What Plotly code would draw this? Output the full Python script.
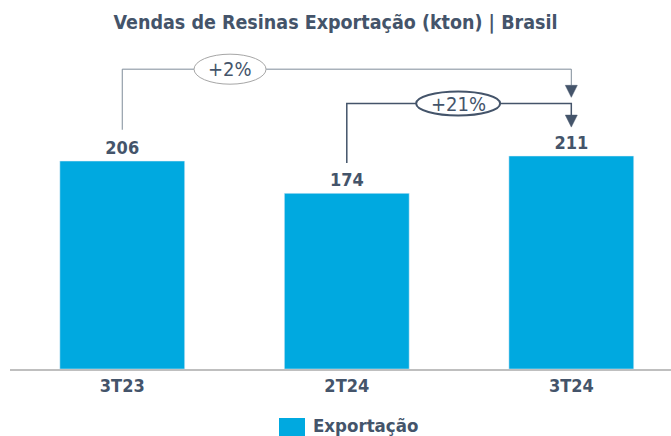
import plotly.graph_objects as go

categories = ["3T23", "2T24", "3T24"]
values = [206, 174, 211]
series_name = "Exportação"
growth_labels = ["+2%", "+21%"]

TXT = "#44546A"
BAR = "#00A9E0"
FONT = "DejaVu Sans Condensed, DejaVu Sans, sans-serif"

L, T, B = 10, 50, 67
PW, PH = 671 - L, 436 - T - B
YMAX = 316
UX = 2.944 / PW      # x data units per pixel
UY = YMAX / PH       # y data units per pixel

x = list(range(len(categories)))
fig = go.Figure()
fig.add_trace(go.Bar(
    x=x, y=values, name=series_name, marker_color=BAR, width=0.556,
    text=[str(v) for v in values], textposition="outside", cliponaxis=False,
    textfont=dict(family=FONT, size=18, color=TXT, weight="bold"),
    showlegend=False,
))

shapes = []
annotations = []


def arrow_head(xc, ytop, color):
    hw = 6 * UX
    h = 12 * UY
    return dict(type="path", xref="x", yref="y",
                path=f"M {xc-hw} {ytop} L {xc+hw} {ytop} L {xc} {ytop-h} Z",
                fillcolor=color, line=dict(color=color, width=0.5))


# bracket 1: 3T23 -> 3T24
y1 = 297
head1 = 281
shapes.append(dict(type="path", xref="x", yref="y",
                   path=f"M 0 {values[0]+31} L 0 {y1} L 2 {y1} L 2 {head1}",
                   line=dict(color="#7F8C99", width=1)))
shapes.append(arrow_head(2, head1, TXT))
shapes.append(dict(type="circle", xref="x", yref="y", x0=0.48-36*UX, x1=0.48+36*UX,
                   y0=y1-15*UY, y1=y1+15*UY, fillcolor="white", line=dict(color="#A6A6A6", width=1)))
annotations.append(dict(x=0.48, y=y1, xref="x", yref="y", text=growth_labels[0], showarrow=False,
                        font=dict(family=FONT, size=20, color=TXT)))
# bracket 2: 2T24 -> 3T24
y2 = 263
head2 = 251.5
shapes.append(dict(type="path", xref="x", yref="y",
                   path=f"M 1 {values[1]+30} L 1 {y2} L 2 {y2} L 2 {head2}",
                   line=dict(color=TXT, width=1.5)))
shapes.append(arrow_head(2, head2, TXT))
shapes.append(dict(type="circle", xref="x", yref="y", x0=1.496-42*UX, x1=1.496+42*UX,
                   y0=y2-12*UY, y1=y2+12*UY, fillcolor="white", line=dict(color=TXT, width=2)))
annotations.append(dict(x=1.496, y=y2, xref="x", yref="y", text=growth_labels[1], showarrow=False,
                        font=dict(family=FONT, size=20, color=TXT)))

# manual legend (larger swatch like the reference)
shapes.append(dict(type="rect", xref="paper", yref="paper", x0=(279-L)/PW, x1=(305-L)/PW,
                   y0=(369-436)/PH, y1=(369-418)/PH, fillcolor=BAR, line=dict(width=0)))
annotations.append(dict(x=(311-L)/PW, y=(369-425)/PH, xref="paper", yref="paper",
                        xanchor="left", yanchor="middle", showarrow=False,
                        text=f"<b>{series_name}</b>", font=dict(family=FONT, size=18.5, color=TXT)))

fig.update_layout(
    width=671, height=436,
    margin=dict(l=L, r=0, t=T, b=B),
    paper_bgcolor="white", plot_bgcolor="white",
    title=dict(text="<b>Vendas de Resinas Exportação (kton) | Brasil</b>", x=0.5, xanchor="center",
               y=1 - 22/436, yanchor="middle", font=dict(family=FONT, size=19.5, color=TXT)),
    xaxis=dict(tickmode="array", tickvals=x, ticktext=[f"<b>{c}</b>" for c in categories],
               range=[-0.5, 2.444], showgrid=False, showline=True, linecolor="#BFBFBF",
               linewidth=1.5, ticks="", tickfont=dict(family=FONT, size=18, color=TXT)),
    yaxis=dict(range=[0, YMAX], visible=False, showgrid=False),
    showlegend=False,
    shapes=shapes, annotations=annotations,
)
fig.write_html("out.html", config={"displayModeBar": False},
               post_script="document.body.style.margin='0';")
